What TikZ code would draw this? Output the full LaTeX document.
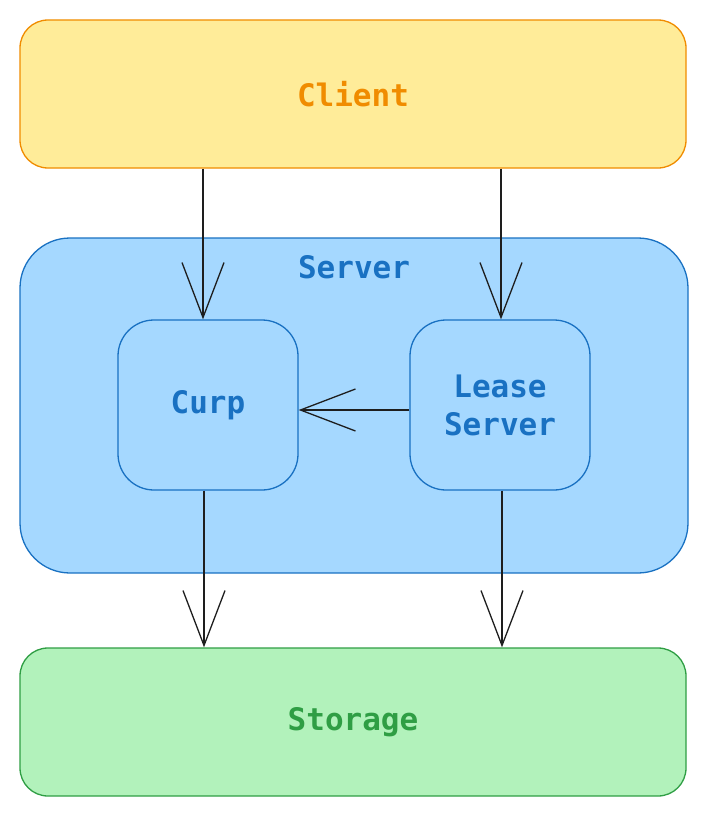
\documentclass[tikz,border=0pt]{standalone}
\usepackage{fontspec}
\setmonofont{DejaVu Sans Mono}
\usetikzlibrary{arrows.meta,positioning}
\definecolor{clientfill}{HTML}{FFEC99}
\definecolor{clientline}{HTML}{F08C00}
\definecolor{serverfill}{HTML}{A5D8FF}
\definecolor{serverline}{HTML}{1971C2}
\definecolor{storagefill}{HTML}{B2F2BB}
\definecolor{storageline}{HTML}{2F9E44}
\definecolor{arrowline}{HTML}{1E1E1E}

\begin{document}
\begin{tikzpicture}[x=1pt, y=-1pt,
    every node/.style={
        rectangle,
        draw,
        line width=1.3pt,
        inner sep=0pt,
        align=center,
        font=\ttfamily\bfseries\fontsize{31}{38}\selectfont
    },
    wide_box/.style={minimum width=666pt, minimum height=148pt, rounded corners=28pt},
    inner_box/.style={minimum width=180pt, minimum height=170pt, rounded corners=36pt,
        fill=serverfill, draw=serverline, text=serverline},
    flow/.style={-{Straight Barb[length=55pt, width=42pt, line width=1.3pt]},
        draw=arrowline, line width=1.3pt}
]
    \useasboundingbox (0, 0) rectangle (708, 816);
    \node (client) [wide_box, fill=clientfill, draw=clientline, text=clientline] at (353, 94)
    {
        Client%
    };
    \node (server) [minimum width=668pt, minimum height=335pt, rounded corners=50pt,
        fill=serverfill, draw=serverline] at (354, 405.5) {};
    \node (server_label) [draw=none, text=serverline] at (354, 267)
    {
        Server%
    };
    \node (curp) [inner_box] at (208, 405)
    {
        Curp%
    };
    \node (lease_server) [inner_box] at (500, 405)
    {
        Lease\\Server%
    };
    \node (storage) [wide_box, fill=storagefill, draw=storageline, text=storageline] at (353, 722)
    {
        Storage%
    };
    \draw[flow] (client.south -| 203, 0) to (curp.north -| 203, 0);
    \draw[flow] (client.south -| 501, 0) to (lease_server.north -| 501, 0);
    \draw[flow] (lease_server.west |- 0, 410) to (curp.east |- 0, 410);
    \draw[flow] (curp.south -| 204, 0) to (storage.north -| 204, 0);
    \draw[flow] (lease_server.south -| 502, 0) to (storage.north -| 502, 0);
\end{tikzpicture}
\end{document}
